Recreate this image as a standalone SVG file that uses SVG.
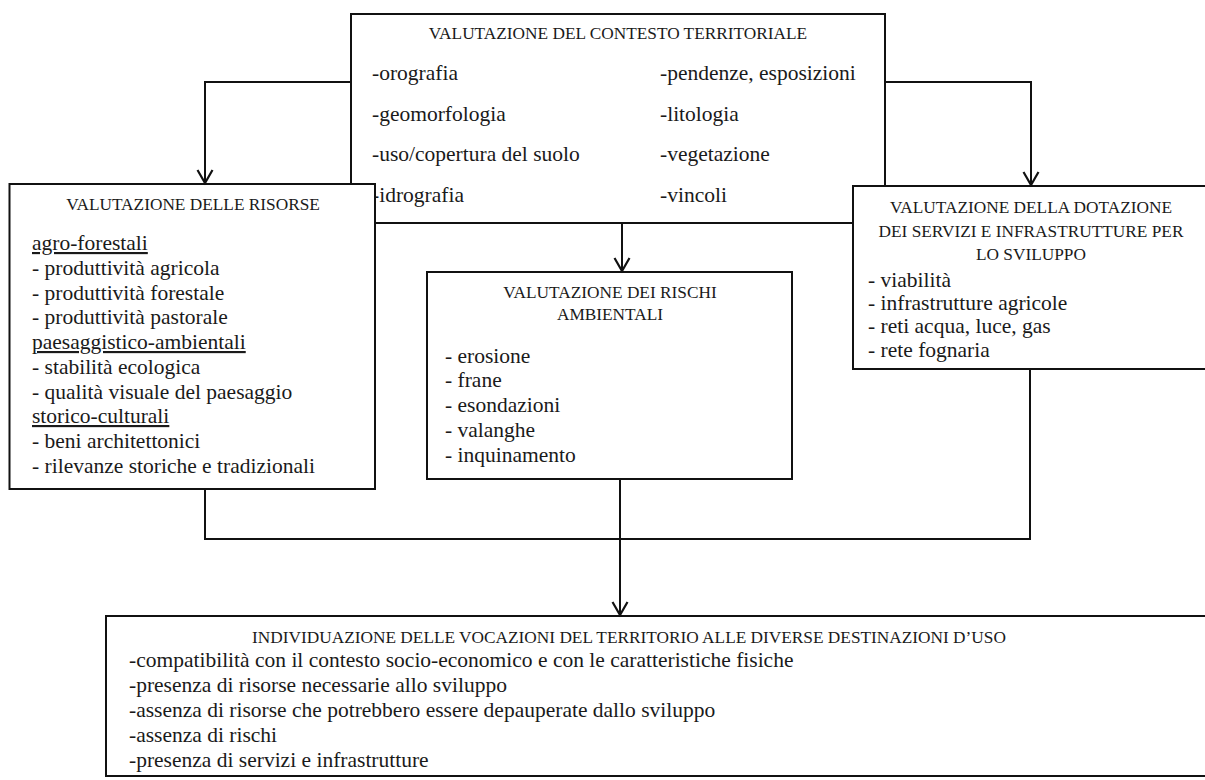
<svg xmlns="http://www.w3.org/2000/svg" width="1205" height="780" viewBox="0 0 1205 780">
<defs>
<style>
.box{fill:#fff;stroke:#111;stroke-width:2}
.ln{fill:none;stroke:#111;stroke-width:2}
.h{font-family:"Liberation Serif","Times New Roman",serif;font-size:17.3px;fill:#1a1a1a}
.b{font-family:"Liberation Serif","Times New Roman",serif;font-size:21.5px;fill:#1a1a1a}
.c{text-anchor:middle}
.u{text-decoration:underline}
</style>
<marker id="arr" markerUnits="userSpaceOnUse" markerWidth="24" markerHeight="24" viewBox="-18 -12 24 24" refX="0" refY="0" orient="auto" overflow="visible">
<path d="M-13,-7.5 L0,0 L-13,7.5" fill="none" stroke="#111" stroke-width="2.2"/>
</marker>
</defs>
<rect width="1205" height="780" fill="#fff"/>

<g id="contesto">
<rect class="box" x="351" y="14" width="534" height="209"/>
<text class="h c" x="618" y="39">VALUTAZIONE DEL CONTESTO TERRITORIALE</text>
<text class="b" x="372" y="80">-orografia</text>
<text class="b" x="372" y="121">-geomorfologia</text>
<text class="b" x="372" y="161">-uso/copertura del suolo</text>
<text class="b" x="372" y="202">-idrografia</text>
<text class="b" x="660" y="80">-pendenze, esposizioni</text>
<text class="b" x="660" y="121">-litologia</text>
<text class="b" x="660" y="161">-vegetazione</text>
<text class="b" x="660" y="202">-vincoli</text>
</g>

<g id="risorse">
<rect class="box" x="9.5" y="184" width="365.5" height="305"/>
<text class="h c" x="193" y="210">VALUTAZIONE DELLE RISORSE</text>
<text class="b u" x="32" y="250">agro-forestali</text>
<text class="b" x="32" y="275">- produttività agricola</text>
<text class="b" x="32" y="300">- produttività forestale</text>
<text class="b" x="32" y="324">- produttività pastorale</text>
<text class="b u" x="32" y="349">paesaggistico-ambientali</text>
<text class="b" x="32" y="374">- stabilità ecologica</text>
<text class="b" x="32" y="399">- qualità visuale del paesaggio</text>
<text class="b u" x="32" y="423">storico-culturali</text>
<text class="b" x="32" y="448">- beni architettonici</text>
<text class="b" x="32" y="473">- rilevanze storiche e tradizionali</text>
</g>

<g id="servizi">
<rect class="box" x="853" y="186" width="370" height="183"/>
<text class="h c" x="1031" y="213">VALUTAZIONE DELLA DOTAZIONE</text>
<text class="h c" x="1031" y="237">DEI SERVIZI E INFRASTRUTTURE PER</text>
<text class="h c" x="1031" y="260">LO SVILUPPO</text>
<text class="b" x="868" y="287">- viabilità</text>
<text class="b" x="868" y="310">- infrastrutture agricole</text>
<text class="b" x="868" y="333">- reti acqua, luce, gas</text>
<text class="b" x="868" y="357">- rete fognaria</text>
</g>

<g id="rischi">
<rect class="box" x="427" y="272" width="365" height="207"/>
<text class="h c" x="610" y="298">VALUTAZIONE DEI RISCHI</text>
<text class="h c" x="610" y="320">AMBIENTALI</text>
<text class="b" x="445" y="363">- erosione</text>
<text class="b" x="445" y="387">- frane</text>
<text class="b" x="445" y="412">- esondazioni</text>
<text class="b" x="445" y="437">- valanghe</text>
<text class="b" x="445" y="462">- inquinamento</text>
</g>

<g id="vocazioni">
<rect class="box" x="106" y="616" width="1120" height="160"/>
<text class="h c" x="629" y="643">INDIVIDUAZIONE DELLE VOCAZIONI DEL TERRITORIO ALLE DIVERSE DESTINAZIONI D’USO</text>
<text class="b" x="129" y="667">-compatibilità con il contesto socio-economico e con le caratteristiche fisiche</text>
<text class="b" x="129" y="692">-presenza di risorse necessarie allo sviluppo</text>
<text class="b" x="129" y="717">-assenza di risorse che potrebbero essere depauperate dallo sviluppo</text>
<text class="b" x="129" y="742">-assenza di rischi</text>
<text class="b" x="129" y="767">-presenza di servizi e infrastrutture</text>
</g>

<g id="connectors">
<path class="ln" d="M351,82 H205 V183" marker-end="url(#arr)"/>
<path class="ln" d="M885,82 H1031 V185" marker-end="url(#arr)"/>
<path class="ln" d="M622,223 V271" marker-end="url(#arr)"/>
<path class="ln" d="M205,489 V539 H1030 V369"/>
<path class="ln" d="M620,479 V615" marker-end="url(#arr)"/>
</g>
</svg>
